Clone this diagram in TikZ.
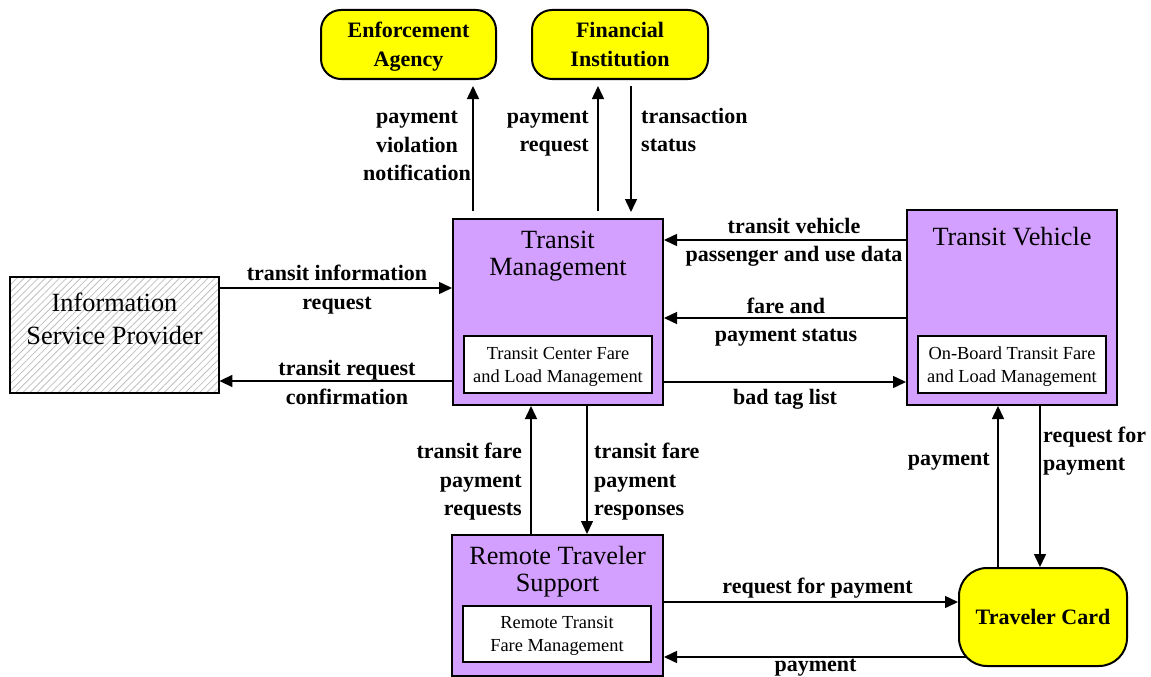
\documentclass[tikz,border=0pt]{standalone}
\usepackage{fontspec}
\setmainfont{Liberation Serif}
\usetikzlibrary{arrows.meta,patterns.meta}
\definecolor{lav}{HTML}{D4A0FF}
\definecolor{yel}{HTML}{FFFF00}
\tikzset{
 arr/.style={line width=1.5pt, -{Triangle[length=13pt,width=12pt]}},
 sys/.style={draw, line width=2pt, fill=lav, inner sep=0pt},
 sub/.style={draw, line width=1.5pt, fill=white, inner sep=0pt, align=center, text depth=0pt, font=\fontsize{18.4}{23}\selectfont},
 term/.style={draw, line width=2pt, fill=yel, rounded corners=20pt, inner sep=0pt, align=center, font=\fontsize{22}{28.5}\selectfont\bfseries},
 ttl/.style={align=center, inner sep=0pt, font=\fontsize{26.3}{27}\selectfont},
 lbl/.style={align=center, inner sep=0pt, font=\fontsize{22}{28.5}\selectfont\bfseries},
 hatchbox/.style={draw, line width=2pt, inner sep=0pt, pattern={Lines[angle=45,distance=5pt,line width=0.8pt]}, pattern color=gray!50},
}
\begin{document}
\begin{tikzpicture}[x=1pt,y=-1pt]
\useasboundingbox (0,0) rectangle (1151,677);
% nodes
\node[hatchbox, minimum width=209pt, minimum height=116pt] (isp) at (114.5,335) {};
\node[ttl, font=\fontsize{26.3}{33}\selectfont] (ispT) at (114.5,319) {Information\\Service Provider};

\node[sys, minimum width=210pt, minimum height=186pt] (tm) at (558,312) {};
\node[ttl] (tmT) at (558,256.5) {Transit\\Management};
\node[sub, minimum width=188pt, minimum height=57pt] (tmS) at (558,364.5) {Transit Center Fare\\and Load Management};

\node[sys, minimum width=210pt, minimum height=195pt] (tv) at (1012,307.5) {};
\node[ttl] (tvT) at (1012,237) {Transit Vehicle};
\node[sub, minimum width=188pt, minimum height=57pt] (tvS) at (1012,364.5) {On-Board Transit Fare\\and Load Management};

\node[sys, minimum width=211pt, minimum height=141pt] (rts) at (557.5,605.5) {};
\node[ttl] (rtsT) at (557.5,572) {Remote Traveler\\Support};
\node[sub, minimum width=188pt, minimum height=56pt] (rtsS) at (557,634) {Remote Transit\\Fare Management};

\node[term, text depth=0pt, minimum width=175pt, minimum height=69pt] (ea) at (408.5,44.5) {Enforcement\\Agency};
\node[term, minimum width=176pt, minimum height=69pt] (fi) at (620,44.5) {Financial\\Institution};
\node[term, rounded corners=28pt, minimum width=168pt, minimum height=98pt] (tc) at (1043,617) {Traveler Card};
\coordinate (tcpay) at (966,657);

% connectors
\draw[arr] (isp.east |- 0,288) -- (tm.west |- 0,288);
\draw[arr] (tm.west |- 0,381) -- (isp.east |- 0,381);
\draw[arr, shorten <=7pt, shorten >=6pt] (473,0 |- tm.north) -- (473,0 |- ea.south);
\draw[arr, shorten <=7pt, shorten >=6pt] (598,0 |- tm.north) -- (598,0 |- fi.south);
\draw[arr, shorten <=6pt, shorten >=6pt] (631,0 |- fi.south) -- (631,0 |- tm.north);
\draw[arr] (tv.west |- 0,240) -- (tm.east |- 0,240);
\draw[arr] (tv.west |- 0,318) -- (tm.east |- 0,318);
\draw[arr] (tm.east |- 0,382) -- (tv.west |- 0,382);
\draw[arr] (531,0 |- rts.north) -- (531,0 |- tm.south);
\draw[arr] (587,0 |- tm.south) -- (587,0 |- rts.north);
\draw[arr] (998,0 |- tc.north) -- (998,0 |- tv.south);
\draw[arr] (1040,0 |- tv.south) -- (1040,0 |- tc.north);
\draw[arr] (rts.east |- 0,602) -- (tc.west |- 0,602);
\draw[arr] (tcpay) -- (rts.east |- tcpay);

% labels
\node[lbl] (l1) at (337,289.5) {transit information\\request};
\node[lbl] (l2) at (347,382.5) {transit request\\confirmation};
\node[lbl] (l3) at (417,146) {payment\\violation\\notification};
\node[lbl, anchor=east, align=right] (l4) at (589,133.5) {payment\\request};
\node[lbl, anchor=west, align=left] (l5) at (641,130) {transaction\\status};
\node[lbl] (l6) at (794,242.5) {transit vehicle\\passenger and use data};
\node[lbl] (l7) at (786,322) {fare and\\payment status};
\node[lbl] (l8) at (785,399) {bad tag list};
\node[lbl, anchor=east, align=right] (l9) at (522,482) {transit fare\\payment\\requests};
\node[lbl, anchor=west, align=left] (l10) at (594,482) {transit fare\\payment\\responses};
\node[lbl, anchor=east] (l11) at (990,462) {payment};
\node[lbl, anchor=west, align=left] (l12) at (1043,451) {request for\\payment};
\node[lbl] (l13) at (817.5,588) {request for payment};
\node[lbl] (l14) at (815.5,668) {payment};
\end{tikzpicture}
\end{document}
